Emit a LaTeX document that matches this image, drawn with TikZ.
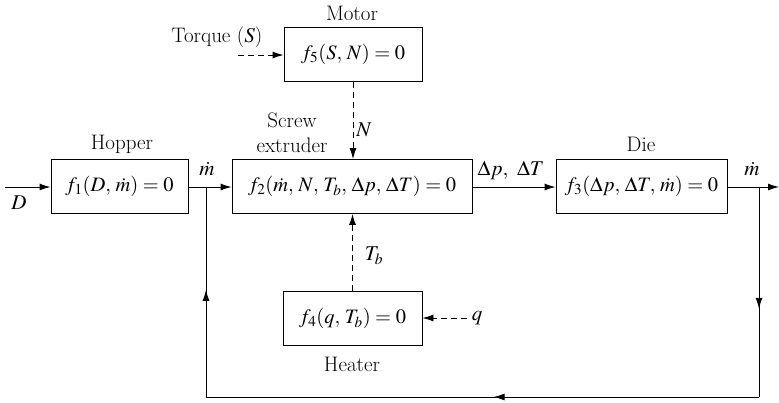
\documentclass[tikz,border=0pt]{standalone}
\usepackage{mathptmx}
\usetikzlibrary{arrows.meta,decorations.markings}
\begin{document}
\begin{tikzpicture}[x=1pt,y=-1pt,
  every node/.style={font=\fontsize{21}{25}\selectfont},
  blk/.style={draw,line width=0.9pt,minimum height=54pt,inner sep=0pt,font=\fontsize{20.5}{24}\selectfont},
  ln/.style={line width=0.9pt},
  arr/.style={ln,-{Latex[length=11pt,width=7pt]}},
  dsh/.style={ln,dash pattern=on 6pt off 4pt},
  midarr/.style={postaction={decorate},decoration={markings,mark=at position #1 with {\arrow{Latex[length=11pt,width=7pt]}}}}
]
\useasboundingbox (0,0) rectangle (779,402);
% blocks
\node[blk,minimum width=137pt] (hop) at (119.5,186.5) {$f_1(D,\,\dot m) = 0$};
\node[blk,minimum width=240pt] (scr) at (352,186.5) {$f_2(\dot m,\,N,\,T_b,\,\Delta p,\,\Delta T) = 0$};
\node[blk,minimum width=171pt] (die) at (641.5,186.5) {$f_3(\Delta p,\,\Delta T,\,\dot m) = 0$};
\node[blk,minimum width=138pt] (mot) at (353,54.5) {$f_5(S,\,N) = 0$};
\node[blk,minimum width=139pt] (hea) at (352.5,318.5) {$f_4(q,\,T_b) = 0$};
% titles
\node (thop) at (122,144) {Hopper};
\node[align=center,inner sep=0pt] (tscr) at (292,133) {Screw\\extruder};
\node (tdie) at (641,144) {Die};
\node (tmot) at (352,13) {Motor};
\node (thea) at (352,364) {Heater};
% coordinates
\coordinate (din) at (5,187);
\coordinate (j1) at (206,187);
\coordinate (j2) at (759,187);
\coordinate (out) at (779,187);
\coordinate (b1) at (759,397);
\coordinate (b2) at (206,397);
\coordinate (tq) at (238,55);
\coordinate (qin) at (467,318);
% main flow
\draw[arr] (din) -- (din -| hop.west);
\node (lD) at (19,203) {$D$};
\draw[arr] (hop.east |- j1) -- (j1 -| scr.west);
\node (lm1) at (207,169) {$\dot m$};
\draw[arr] (scr.east |- j1) -- (j1 -| die.west);
\node (ldp) at (511,170) {$\Delta p,\ \Delta T$};
\draw[arr] (die.east |- j2) -- (out);
\node (lm2) at (752,169) {$\dot m$};
% feedback
\draw[ln,midarr=0.58] (j2) -- (b1);
\draw[ln,midarr=0.48] (b1) -- (b2);
\draw[ln,midarr=0.51] (b2) -- (j1);
% motor
\draw[dsh,-{Latex[length=11pt,width=7pt]}] (tq) -- (mot.west |- tq);
\node (lS) at (217,37) {Torque ($S$)};
\draw[dsh,-{Latex[length=11pt,width=7pt]}] (mot.south) -- (mot.south |- scr.north);
\node (lN) at (364,130) {$N$};
% heater
\draw[dsh,-{Latex[length=11pt,width=7pt]}] (hea.north) -- (hea.north |- scr.south);
\node (lT) at (374,256) {$T_b$};
\draw[dsh,-{Latex[length=11pt,width=7pt]}] (qin) -- (hea.east |- qin);
\node (lq) at (477,318) {$q$};
\end{tikzpicture}
\end{document}
